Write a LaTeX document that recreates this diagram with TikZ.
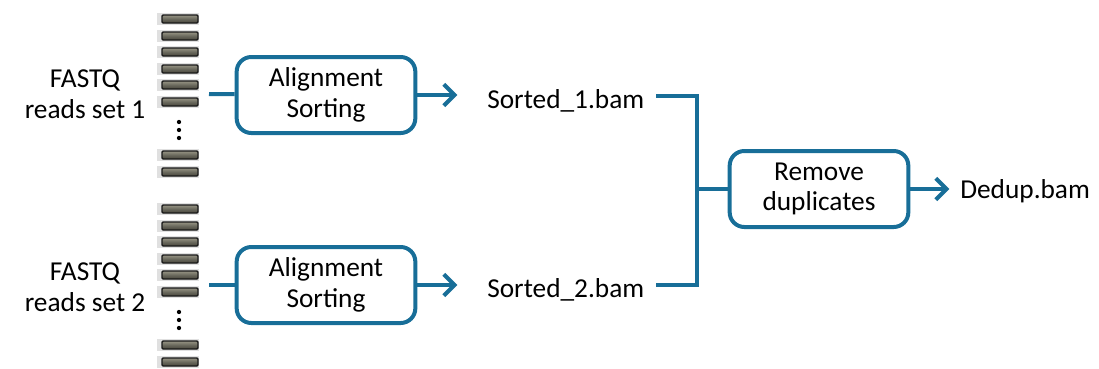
\documentclass[tikz,border=0pt]{standalone}
\usepackage{fontspec}
\setmainfont{Carlito}
\usetikzlibrary{arrows.meta}
\definecolor{flowblue}{RGB}{24,110,152}
\definecolor{readtop}{RGB}{150,148,132}
\definecolor{readbot}{RGB}{70,68,58}

\tikzset{
  stepbox/.style={draw=flowblue, line width=3pt, rounded corners=11pt, align=center,
    minimum width=134pt, minimum height=57pt, inner sep=0pt},
  flow/.style={draw=flowblue, line width=3pt},
  flowarrow/.style={flow, -{Straight Barb[length=8pt, width=16pt, line width=3pt]}},
  label/.style={align=center, inner sep=0pt},
  readbar/.style={draw=black!90, line width=1pt, rounded corners=0.8pt,
    top color=readtop, bottom color=readbot, middle color=black!30!readtop}
}

\begin{document}
\begin{tikzpicture}[x=0.75pt, y=-0.75pt, font=\fontsize{20.5}{23}\selectfont]
  \useasboundingbox (0,0) rectangle (1099,368);

  % read stacks
  \foreach \dy in {0,190} {
    \foreach \yy in {19,36,52,69,85,102,155,172} {
      \fill[black, opacity=0.12] (157,\yy+\dy-6) rectangle (199,\yy+\dy+6);
      \path[readbar] (162,\yy+\dy-4) rectangle (198,\yy+\dy+4);
    }
    \foreach \yy in {122,130,138}
      \fill (179,\yy+\dy) circle[radius=1.6pt];
  }

  \node[label] (fq1) at (85,94) {FASTQ\\reads set 1};
  \node[label] (fq2) at (85,287) {FASTQ\\reads set 2};
  \coordinate (rd1) at (209,94);
  \coordinate (rd2) at (209,285);

  \node[stepbox] (al1) at (326,95) {Alignment\\Sorting};
  \node[stepbox] (al2) at (326,285) {Alignment\\Sorting};

  \node[label, anchor=west] (bam1) at (487,101) {Sorted\_1.bam};
  \node[label, anchor=west] (bam2) at (487,290) {Sorted\_2.bam};

  \node[stepbox] (dedup) at (819,189) {Remove\\duplicates};
  \node[label, anchor=west] (out) at (960,191) {Dedup.bam};

  \coordinate (tee) at (697,189);

  \draw[flow] (rd1) -- (al1);
  \draw[flow] (rd2) -- (al2);
  \draw[flowarrow] (al1.east) -- ++(40,0);
  \draw[flowarrow] (al2.east) -- ++(40,0);
  \draw[flow] (656,96) -| (tee) |- (656,285);
  \draw[flow] (tee) -- (dedup);
  \draw[flowarrow] (dedup.east) -- ++(39,0);
\end{tikzpicture}
\end{document}
